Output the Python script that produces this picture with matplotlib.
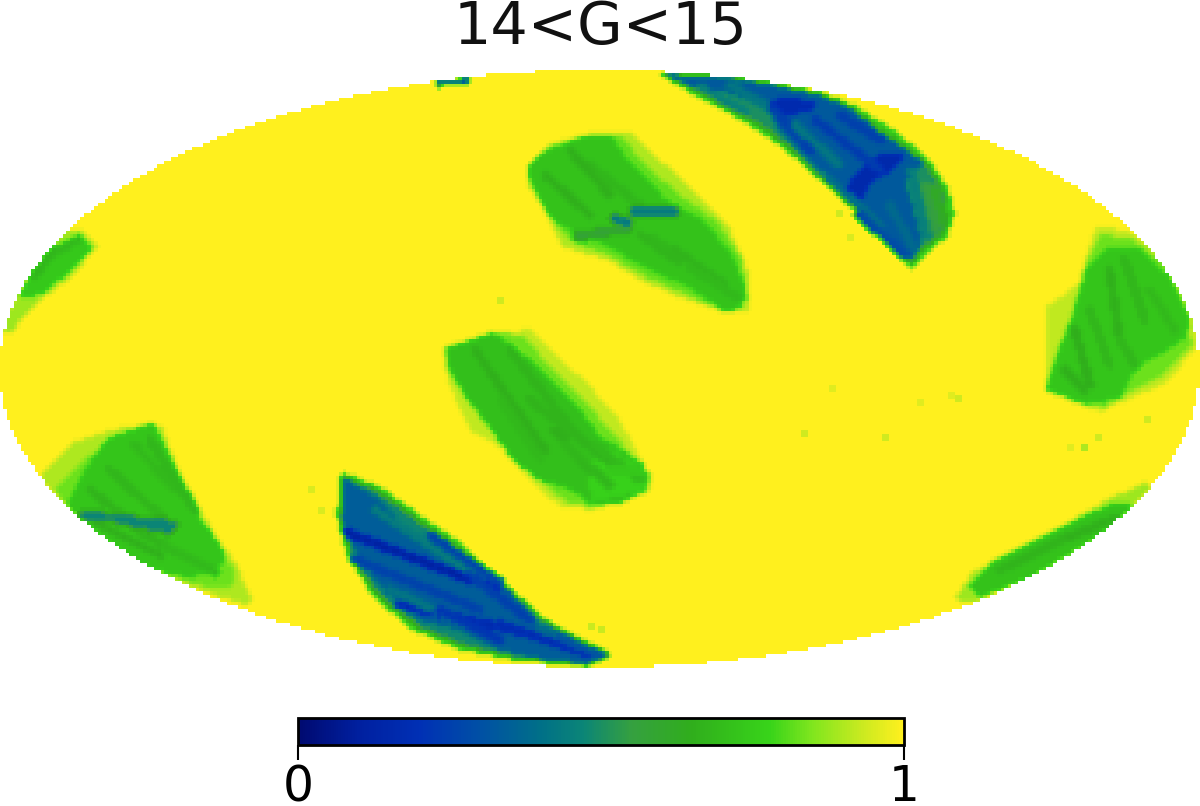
"""Completeness sky map for 14<G<15, painted on a pixel grid in Mollweide frame."""

import matplotlib

matplotlib.use("Agg")
import matplotlib.pyplot as plt
import numpy as np
from matplotlib.colors import LinearSegmentedColormap
from matplotlib.path import Path

TITLE = "14<G<15"
CBAR_TICKS = [0, 1]

# Colormap stops
CMAP_POS = [0, 0.1, 0.2, 0.3, 0.4, 0.47, 0.55, 0.65, 0.78, 0.85, 0.93, 1]
CMAP_COL = ["#000a70", "#0020a0", "#0030b5", "#0050a5", "#007088", "#0b8577",
            "#35a040", "#30ae1c", "#38d41a", "#80e61e", "#c8ea20", "#fff01e"]

# Regions as outlines on the map (image pixels), painted in order
TOP_EDGE = [(660, 74), (717, 75), (767, 82), (820, 92), (853, 105), (893, 130), (927, 157), (947, 187), (955, 213), (947, 237), (927, 253), (912, 268), (893, 250), (867, 220), (843, 200), (813, 173), (773, 140), (733, 115), (697, 97)]
TOP_TEAL = [(664, 75), (717, 76), (767, 84), (820, 95), (850, 108), (885, 135), (925, 163), (940, 190), (945, 213), (938, 235), (920, 252), (911, 262), (890, 245), (865, 215), (840, 195), (810, 168), (775, 135), (735, 110), (700, 93)]
TOP_BLUE = [(664, 75), (717, 76), (767, 84), (820, 95), (850, 108), (885, 135), (924, 162), (905, 180), (918, 225), (922, 248), (911, 260), (890, 243), (868, 212), (845, 190), (812, 163), (780, 130), (765, 105), (720, 90), (695, 88)]
TOP_DARK_A = [(765, 102), (790, 97), (817, 103), (810, 112), (785, 116), (772, 112)]
TOP_DARK_B = [(845, 190), (858, 172), (880, 155), (905, 155), (893, 170), (872, 183), (860, 205)]
TOP_GREEN = [(908, 172), (928, 165), (945, 195), (948, 225), (930, 245), (924, 240), (918, 205)]

UPPER_HALO = [(527, 167), (553, 143), (600, 132), (633, 133), (660, 160), (693, 190), (727, 223), (747, 267), (750, 313), (727, 313), (687, 300), (647, 283), (607, 260), (563, 247), (543, 207), (530, 187)]
UPPER_MID = [(527, 168), (545, 148), (590, 135), (622, 136), (645, 165), (680, 195), (718, 222), (742, 260), (748, 300), (727, 313), (690, 296), (650, 279), (610, 256), (570, 241), (546, 210), (532, 187)]
UPPER_CORE = [(527, 170), (540, 155), (580, 138), (610, 135), (625, 157), (640, 172), (665, 200), (705, 222), (733, 257), (745, 287), (743, 307), (727, 313), (690, 287), (650, 270), (610, 247), (573, 232), (550, 217), (537, 193)]

CENTRE_HALO = [(443, 348), (490, 333), (533, 330), (553, 353), (587, 383), (620, 420), (653, 483), (647, 493), (593, 510), (560, 507), (527, 477), (500, 447), (473, 433), (460, 410), (447, 377)]
CENTRE_MID = [(445, 348), (492, 333), (522, 335), (545, 360), (582, 397), (612, 432), (650, 475), (648, 492), (600, 508), (567, 503), (532, 472), (505, 442), (482, 420), (465, 397), (448, 372)]
CENTRE_CORE = [(447, 348), (493, 333), (513, 347), (540, 370), (577, 407), (600, 437), (645, 465), (648, 490), (620, 503), (593, 505), (573, 490), (540, 480), (513, 460), (487, 423), (467, 397), (450, 370)]
CENTRE_LIGHT = [(600, 443), (643, 467), (647, 490), (593, 503), (587, 477)]

LOW_EDGE = [(342, 472), (380, 487), (417, 513), (460, 543), (500, 580), (550, 623), (612, 655), (587, 667), (513, 660), (460, 650), (413, 630), (373, 597), (347, 553), (337, 517), (340, 480)]
LOW_TEAL = [(343, 476), (380, 493), (413, 517), (453, 547), (497, 580), (540, 618), (590, 648), (610, 657), (587, 665), (516, 657), (462, 645), (420, 628), (380, 597), (353, 560), (341, 520)]
LOW_BLUE = [(344, 478), (375, 497), (400, 520), (430, 548), (480, 570), (510, 590), (540, 625), (570, 637), (610, 657), (587, 665), (540, 660), (500, 650), (460, 630), (420, 620), (385, 592), (358, 557), (342, 520)]

LEFT_TOP_HALO = [(63, 233), (80, 230), (98, 248), (67, 280), (33, 307), (10, 335), (0, 328), (17, 293), (33, 267)]
LEFT_TOP_CORE = [(70, 240), (83, 238), (93, 250), (63, 277), (43, 295), (20, 297), (30, 277)]

LEFT_LOW_HALO = [(40, 477), (73, 443), (113, 430), (153, 423), (163, 427), (177, 467), (197, 503), (215, 535), (237, 565), (252, 600), (248, 606), (213, 595), (140, 567), (93, 533), (57, 497)]
LEFT_LOW_MID = [(55, 490), (85, 460), (115, 436), (153, 423), (172, 465), (192, 503), (215, 540), (235, 572), (232, 590), (195, 585), (140, 567), (93, 533), (65, 505)]
LEFT_LOW_CORE = [(83, 473), (110, 437), (153, 423), (177, 470), (197, 507), (200, 520), (220, 543), (225, 560), (212, 573), (187, 577), (143, 567), (93, 530), (67, 507), (77, 487)]

RIGHT_HALO = [(1097, 228), (1127, 230), (1157, 250), (1187, 300), (1197, 333), (1197, 347), (1167, 383), (1127, 400), (1100, 412), (1083, 405), (1045, 390), (1047, 353), (1047, 307), (1080, 283), (1087, 253)]
RIGHT_MID = [(1100, 235), (1130, 238), (1165, 262), (1190, 310), (1192, 345), (1165, 375), (1130, 392), (1105, 408), (1083, 405), (1045, 390), (1055, 357), (1072, 315), (1085, 265)]
RIGHT_CORE = [(1107, 250), (1140, 250), (1170, 277), (1190, 317), (1187, 337), (1167, 350), (1137, 367), (1120, 397), (1087, 405), (1047, 390), (1057, 357), (1073, 317), (1087, 270)]

SOUTH_HALO = [(957, 597), (973, 573), (1000, 557), (1040, 537), (1073, 520), (1113, 497), (1147, 483), (1153, 487), (1133, 507), (1107, 530), (1073, 553), (1033, 577), (980, 600), (963, 603)]
SOUTH_CORE = [(970, 587), (993, 563), (1037, 540), (1073, 522), (1117, 502), (1135, 507), (1107, 532), (1073, 553), (1033, 577), (980, 598)]

NORTH_SLIVER = [(438, 81), (470, 78), (470, 83), (438, 86)]

REGIONS = [
    (TOP_EDGE, 0.72), (TOP_TEAL, 0.5), (TOP_BLUE, 0.33), (TOP_GREEN, 0.5),
    (TOP_DARK_A, 0.17), (TOP_DARK_B, 0.16),
    (UPPER_HALO, 0.9), (UPPER_MID, 0.82), (UPPER_CORE, 0.72),
    (CENTRE_HALO, 0.92), (CENTRE_MID, 0.83), (CENTRE_CORE, 0.71), (CENTRE_LIGHT, 0.77),
    (LOW_EDGE, 0.72), (LOW_TEAL, 0.48), (LOW_BLUE, 0.34),
    (LEFT_TOP_HALO, 0.88), (LEFT_TOP_CORE, 0.74),
    (LEFT_LOW_HALO, 0.9), (LEFT_LOW_MID, 0.83), (LEFT_LOW_CORE, 0.73),
    (RIGHT_HALO, 0.92), (RIGHT_MID, 0.83), (RIGHT_CORE, 0.73),
    (SOUTH_HALO, 0.88), (SOUTH_CORE, 0.72),
    (NORTH_SLIVER, 0.25),
]

# Broad streaks across the scan patches: start, end, level
STREAK_X0 = [700, 730, 775, 795, 815, 840, 830, 860, 890, 912, 925, 935,
             545, 590, 570, 640, 655, 675, 690, 577, 633, 615,
             475, 510, 530, 500, 555, 565, 595, 610,
             347, 400, 375, 355, 390, 430, 470, 440, 500, 540, 560,
             90, 110, 135, 150, 100, 145, 165, 83, 133,
             1110, 1125, 1150, 1075, 1090, 1065, 1120,
             1000, 1040, 1070, 35, 60]
STREAK_Y0 = [88, 85, 110, 125, 120, 115, 180, 215, 205, 172, 185, 190,
             175, 165, 150, 235, 240, 250, 268, 237, 212, 219,
             350, 350, 400, 400, 430, 445, 445, 470,
             533, 605, 510, 560, 590, 535, 575, 610, 625, 630, 638,
             490, 470, 445, 440, 525, 535, 545, 515, 523,
             270, 260, 290, 330, 310, 370, 340,
             570, 550, 538, 275, 250]
STREAK_X1 = [745, 765, 810, 840, 880, 880, 880, 905, 915, 925, 938, 945,
             590, 640, 610, 680, 705, 725, 738, 630, 675, 628,
             545, 580, 620, 540, 590, 610, 640, 640,
             497, 570, 470, 480, 500, 500, 530, 500, 590, 570, 600,
             140, 165, 175, 195, 160, 190, 215, 173, 170,
             1120, 1145, 1175, 1090, 1110, 1085, 1135,
             1040, 1085, 1115, 55, 78]
STREAK_Y1 = [112, 105, 150, 165, 170, 140, 225, 255, 250, 235, 235, 225,
             215, 205, 195, 262, 272, 285, 298, 228, 212, 222,
             450, 440, 470, 460, 470, 485, 480, 470,
             590, 643, 573, 610, 640, 583, 620, 640, 655, 640, 655,
             530, 520, 490, 510, 555, 560, 572, 525, 530,
             340, 320, 330, 385, 365, 390, 365,
             552, 530, 518, 250, 240]
STREAK_V = [0.46, 0.42, 0.25, 0.42, 0.24, 0.25, 0.4, 0.29, 0.38, 0.45, 0.55, 0.62,
            0.66, 0.68, 0.66, 0.67, 0.68, 0.67, 0.69, 0.58, 0.44, 0.44,
            0.66, 0.67, 0.67, 0.69, 0.66, 0.68, 0.69, 0.74,
            0.12, 0.17, 0.44, 0.26, 0.42, 0.27, 0.25, 0.22, 0.18, 0.38, 0.32,
            0.67, 0.68, 0.69, 0.68, 0.66, 0.67, 0.69, 0.47, 0.47,
            0.66, 0.68, 0.69, 0.65, 0.68, 0.66, 0.68,
            0.67, 0.67, 0.66, 0.68, 0.69]
STREAK_HALF_WIDTH = 4.5

# Small faint dips in the yellow
SPOT_X = [500, 805, 830, 885, 920, 950, 957, 1085, 1068, 1098, 1145, 840, 850, 310, 320, 590, 600]
SPOT_Y = [300, 432, 388, 435, 400, 395, 397, 448, 448, 437, 417, 213, 235, 490, 510, 625, 630]
SPOT_VAL = [0.94, 0.94, 0.96, 0.94, 0.96, 0.96, 0.94, 0.9, 0.96, 0.94, 0.94, 0.94, 0.95, 0.95, 0.95, 0.93, 0.93]

CENTRE_X, CENTRE_Y = 600, 369
SEMI_X, SEMI_Y = 600, 299
CELL = 3.5


def build_map():
    xs = np.arange(0, 1200, CELL) + CELL / 2
    ys = np.arange(70, 668, CELL) + CELL / 2
    gx, gy = np.meshgrid(xs, ys)
    pts = np.column_stack([gx.ravel(), gy.ravel()])
    field = np.ones(gx.shape)
    for outline, value in REGIONS:
        inside = Path(outline).contains_points(pts).reshape(gx.shape)
        field[inside] = value
    for x0, y0, x1, y1, v in zip(STREAK_X0, STREAK_Y0, STREAK_X1, STREAK_Y1, STREAK_V):
        dx, dy = x1 - x0, y1 - y0
        length2 = dx * dx + dy * dy
        along = np.clip(((gx - x0) * dx + (gy - y0) * dy) / length2, 0, 1)
        dist = np.hypot(gx - x0 - along * dx, gy - y0 - along * dy)
        field[dist < STREAK_HALF_WIDTH] = v
    # soften the painted steps a little, like the smoothed map
    pad = np.pad(field, 1, mode="edge")
    soft = (pad[1:-1, 1:-1] * 3 + pad[:-2, 1:-1] + pad[2:, 1:-1] + pad[1:-1, :-2] + pad[1:-1, 2:]) / 7
    for x, y, v in zip(SPOT_X, SPOT_Y, SPOT_VAL):
        row, col = np.abs(ys - y).argmin(), np.abs(xs - x).argmin()
        soft[row:row + 2, col:col + 2] = v
    outside = ((gx - CENTRE_X) / SEMI_X) ** 2 + ((gy - CENTRE_Y) / SEMI_Y) ** 2 > 1
    return np.ma.masked_where(outside, soft)


def main():
    cmap = LinearSegmentedColormap.from_list("sky", list(zip(CMAP_POS, CMAP_COL)), N=256)
    cmap.set_bad("white")

    fig = plt.figure(figsize=(12, 8.06), dpi=100)
    ax = fig.add_axes([0, 0, 1, 1])
    im = ax.imshow(build_map(), cmap=cmap, vmin=0, vmax=1, extent=(0, 1200, 668, 70),
                   interpolation="nearest", aspect="auto")
    ax.set_xlim(0, 1200)
    ax.set_ylim(806, 0)
    ax.axis("off")
    ax.text(600, 44, TITLE, ha="center", va="baseline", fontsize=42.4, color="#111111")

    cax = fig.add_axes([298 / 1200, 1 - 745 / 806, 606 / 1200, 27 / 806])
    cbar = fig.colorbar(im, cax=cax, orientation="horizontal", ticks=CBAR_TICKS)
    cbar.outline.set_linewidth(2)
    cax.tick_params(length=11, width=1.5, labelsize=35, pad=2)
    fig.savefig("out.png", dpi=100, facecolor="white")


if __name__ == "__main__":
    main()
